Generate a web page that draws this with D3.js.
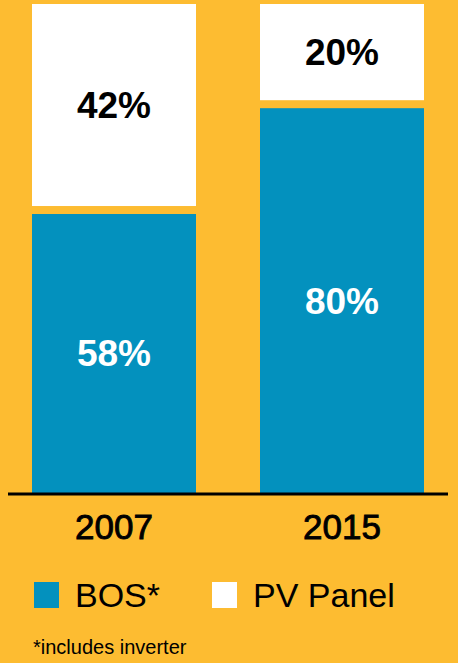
<!DOCTYPE html>
<html>
<head>
<meta charset="utf-8">
<script src="https://cdn.jsdelivr.net/npm/d3@7"></script>
<style>
  html, body { margin: 0; padding: 0; background: #fdbc31; }
  svg { display: block; font-family: "Liberation Sans", Arial, Helvetica, sans-serif; }
</style>
</head>
<body>
<svg id="chart" width="458" height="663"></svg>
<script>
// chart data
var years = ["2007", "2015"];
var bos = [58, 80];
var panel = [42, 20];
var seriesNames = ["BOS*", "PV Panel"];
var seriesColors = ["#0391be", "#ffffff"];
var labelColors = ["#ffffff", "#000000"];
var footnote = "*includes inverter";

var gap = 8;
var svg = d3.select("#chart");

var x = d3.scaleBand().domain(years).range([32, 424]).paddingInner(64 / 228).paddingOuter(0);
var y = d3.scaleLinear().domain([0, 100]).range([493, 12]);

// stacked segments, white one lifted by a gap
var stack = d3.stack().keys([0, 1]).value(function(d, k) { return k === 0 ? d.bos : d.panel; });
var rows = years.map(function(yr, i) { return {year: yr, bos: bos[i], panel: panel[i]}; });
var layers = stack(rows);

var g = svg.append("g");
layers.forEach(function(layer, k) {
  var off = k * gap;
  var grp = g.append("g").attr("class", "layer" + k);
  grp.selectAll("rect").data(layer).enter().append("rect")
    .attr("x", function(d) { return x(d.data.year); })
    .attr("y", function(d) { return y(d[1]) - off; })
    .attr("width", x.bandwidth())
    .attr("height", function(d) { return y(d[0]) - y(d[1]); })
    .attr("fill", seriesColors[k]);
  grp.selectAll("text").data(layer).enter().append("text")
    .attr("x", function(d) { return x(d.data.year) + x.bandwidth() / 2; })
    .attr("y", function(d) { return (y(d[0]) + y(d[1])) / 2 - off; })
    .attr("dy", "0.35em")
    .attr("text-anchor", "middle")
    .attr("font-size", 37).attr("font-weight", "bold")
    .attr("fill", labelColors[k])
    .text(function(d) { return (d[1] - d[0]) + "%"; });
});

// baseline
svg.append("line").attr("x1", 8).attr("x2", 448).attr("y1", y(0) + 1).attr("y2", y(0) + 1)
  .attr("stroke", "#000").attr("stroke-width", 3);

// year labels (medium weight: regular face + thin stroke)
svg.selectAll("text.year").data(years).enter().append("text").attr("class", "year")
  .attr("x", function(d) { return x(d) + x.bandwidth() / 2; })
  .attr("y", 539)
  .attr("text-anchor", "middle")
  .attr("font-size", 35)
  .attr("fill", "#000").attr("stroke", "#000").attr("stroke-width", 0.9)
  .text(function(d) { return d; });

// legend
var legendX = [34, 212];
var leg = svg.selectAll("g.legend").data(seriesNames).enter().append("g").attr("class", "legend")
  .attr("transform", function(d, i) { return "translate(" + legendX[i] + ",582)"; });
leg.append("rect").attr("width", 25).attr("height", 26).attr("fill", function(d, i) { return seriesColors[i]; });
leg.append("text").attr("x", 41).attr("y", 25).attr("font-size", 34).attr("fill", "#000")
  .text(function(d) { return d; });

svg.append("text").attr("x", 33).attr("y", 654).attr("font-size", 20).attr("fill", "#000").text(footnote);
</script>
</body>
</html>
